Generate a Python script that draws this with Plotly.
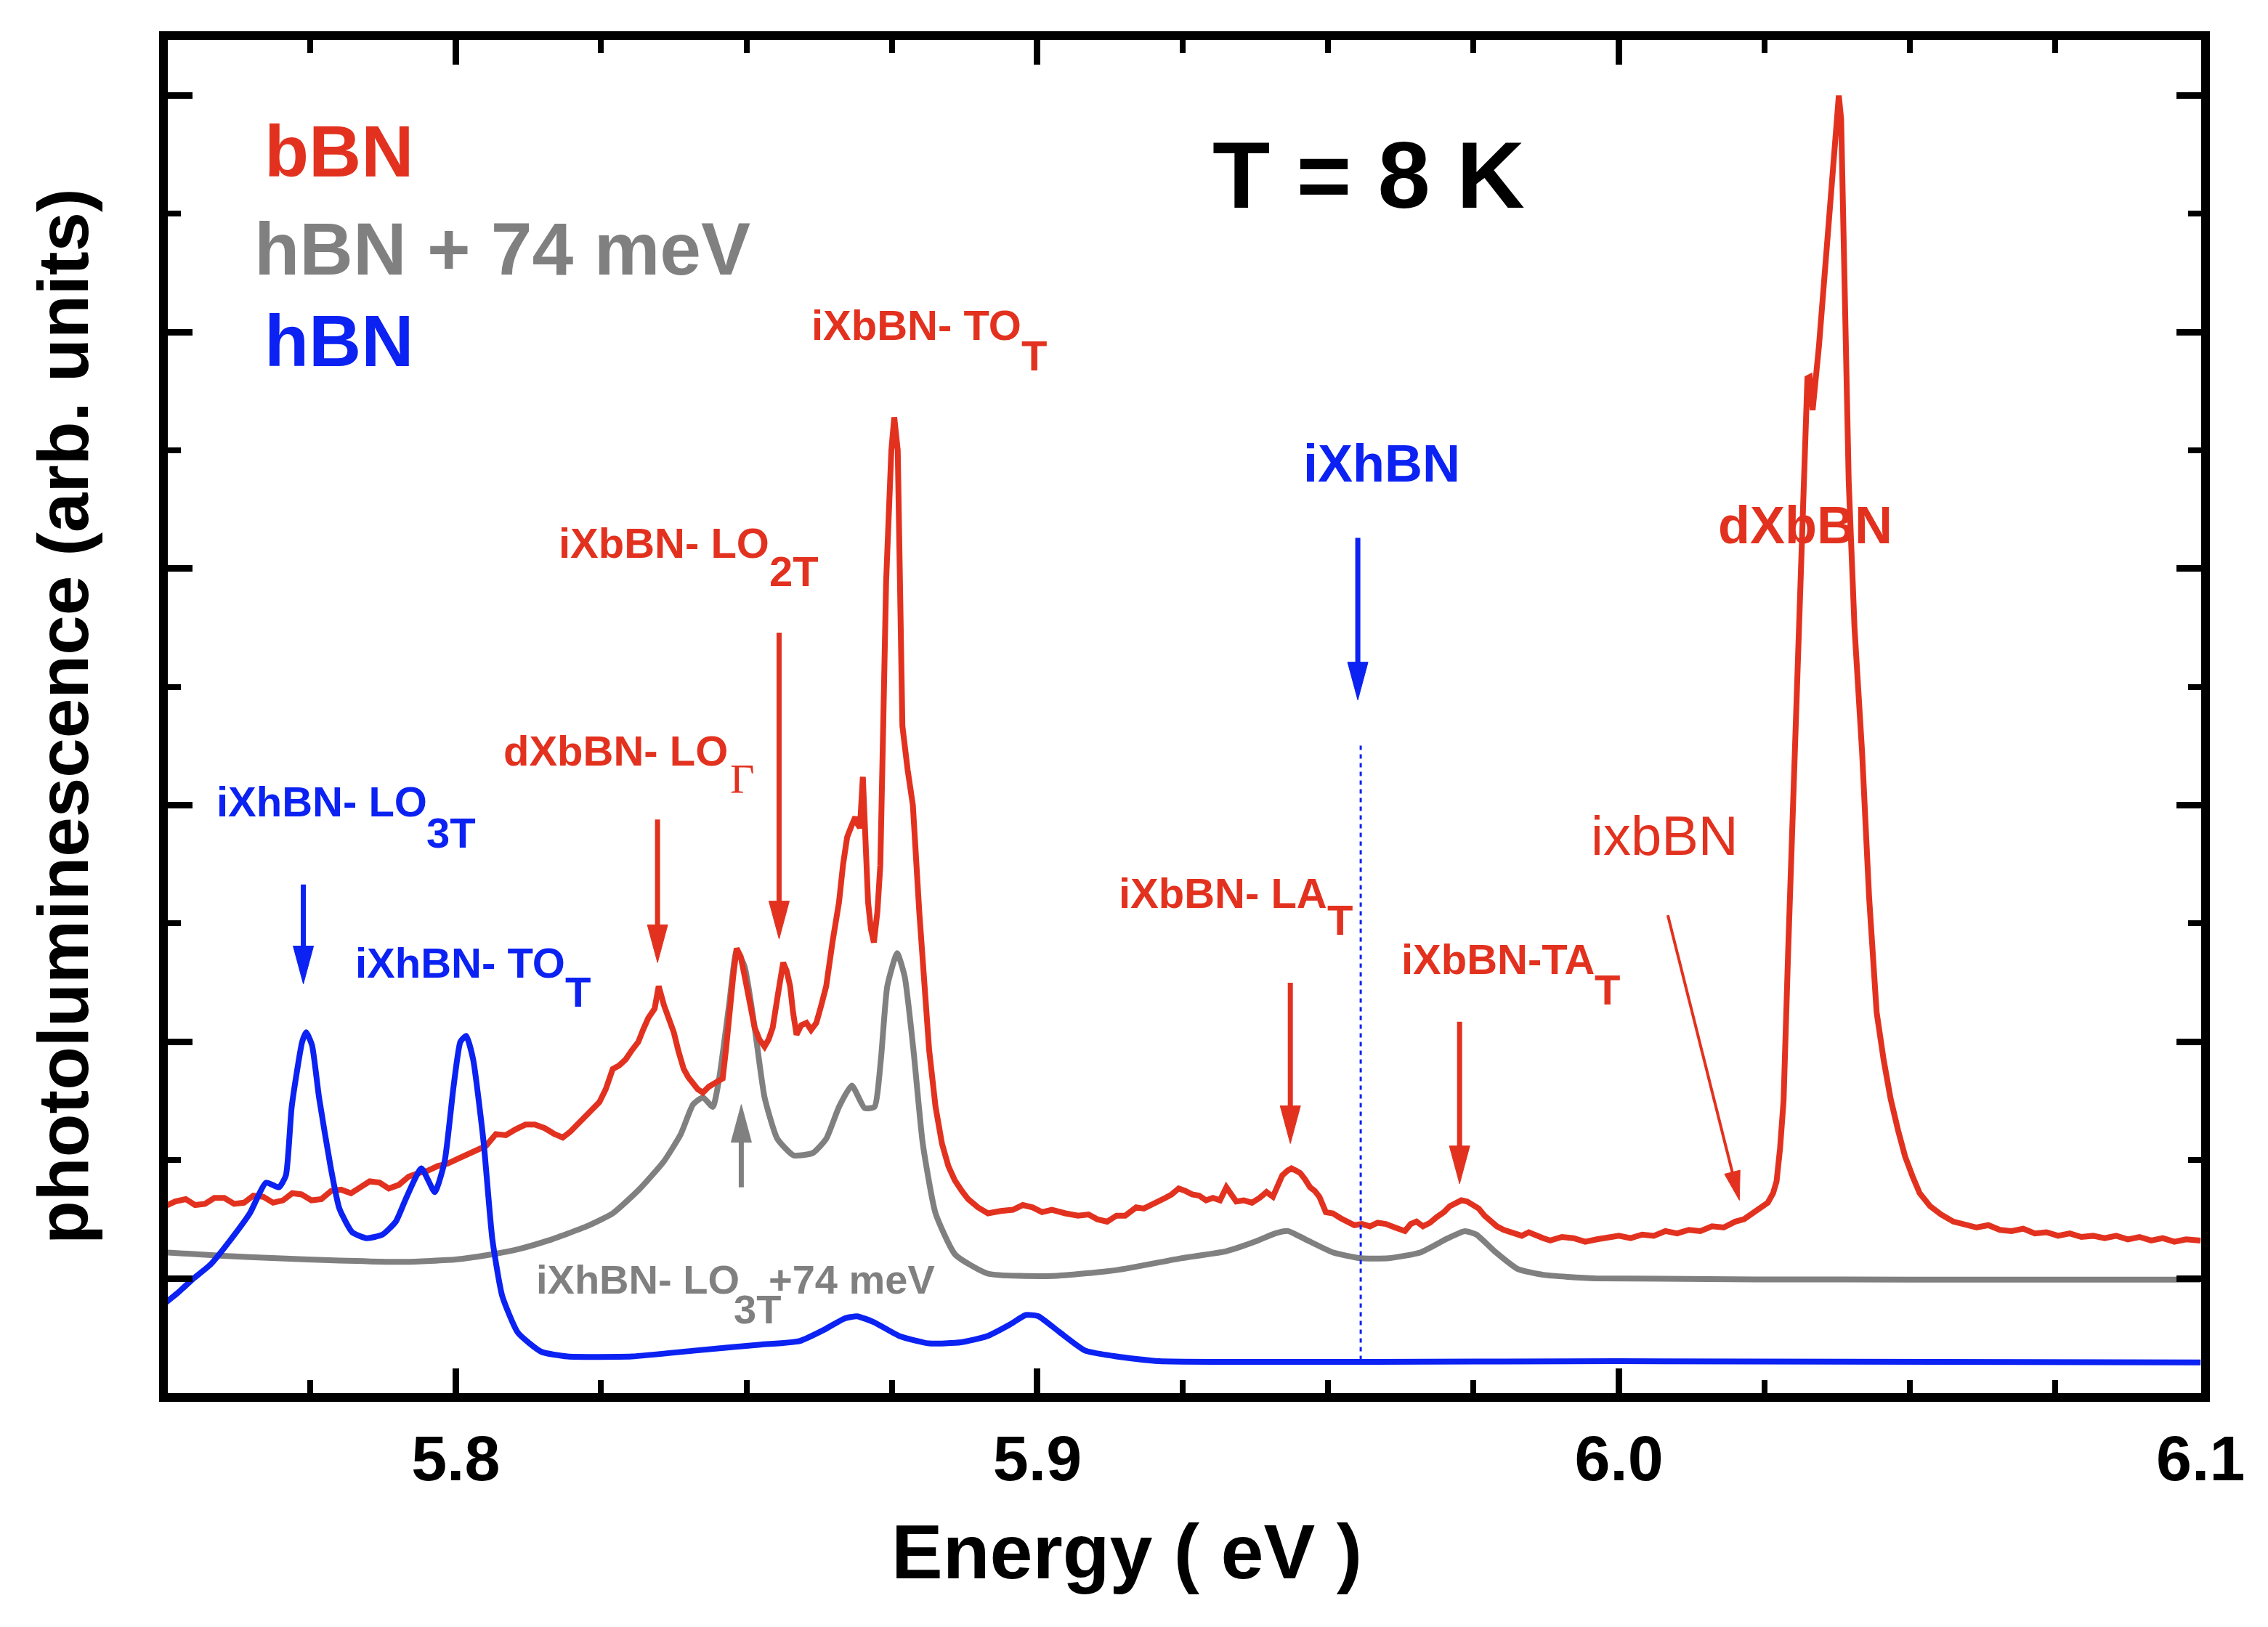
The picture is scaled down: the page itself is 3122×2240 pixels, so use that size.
import math
import plotly.graph_objects as go

# ---------------- data ----------------
# bBN photoluminescence (red)
bbn_energy = [
    5.7500, 5.7518, 5.7536, 5.7552, 5.7569, 5.7585, 5.7602, 5.7619, 5.7636, 5.7652,
    5.7669, 5.7686, 5.7703, 5.7719, 5.7735, 5.7752, 5.7769, 5.7786, 5.7803, 5.7820,
    5.7836, 5.7852, 5.7869, 5.7885, 5.7902, 5.7919, 5.7936, 5.7952, 5.7969, 5.7986,
    5.8003, 5.8019, 5.8035, 5.8052, 5.8069, 5.8086, 5.8103, 5.8120, 5.8136, 5.8153,
    5.8170, 5.8184, 5.8197, 5.8211, 5.8225, 5.8236, 5.8247, 5.8258, 5.8270, 5.8281,
    5.8292, 5.8303, 5.8314, 5.8322, 5.8331, 5.8342, 5.8349, 5.8358, 5.8366, 5.8375,
    5.8383, 5.8392, 5.8400, 5.8408, 5.8416, 5.8425, 5.8435, 5.8445, 5.8459, 5.8465,
    5.8470, 5.8477, 5.8483, 5.8490, 5.8497, 5.8505, 5.8514, 5.8522, 5.8531, 5.8538,
    5.8545, 5.8554, 5.8563, 5.8569, 5.8575, 5.8580, 5.8586, 5.8594, 5.8603, 5.8611,
    5.8620, 5.8628, 5.8637, 5.8648, 5.8659, 5.8666, 5.8673, 5.8680, 5.8687, 5.8691,
    5.8695, 5.8700, 5.8705, 5.8709, 5.8714, 5.8719, 5.8725, 5.8730, 5.8735, 5.8740,
    5.8749, 5.8754, 5.8760, 5.8764, 5.8768, 5.8777, 5.8786, 5.8797, 5.8805, 5.8814,
    5.8825, 5.8836, 5.8847, 5.8858, 5.8870, 5.8881, 5.8898, 5.8915, 5.8937, 5.8958,
    5.8975, 5.8992, 5.9008, 5.9025, 5.9048, 5.9070, 5.9088, 5.9103, 5.9120, 5.9136,
    5.9151, 5.9170, 5.9183, 5.9207, 5.9220, 5.9231, 5.9243, 5.9254, 5.9266, 5.9278,
    5.9290, 5.9302, 5.9314, 5.9325, 5.9334, 5.9342, 5.9355, 5.9369, 5.9382, 5.9394,
    5.9405, 5.9414, 5.9421, 5.9430, 5.9437, 5.9445, 5.9452, 5.9460, 5.9469, 5.9477,
    5.9485, 5.9496, 5.9508, 5.9521, 5.9533, 5.9545, 5.9558, 5.9572, 5.9585, 5.9599,
    5.9615, 5.9632, 5.9642, 5.9652, 5.9663, 5.9675, 5.9687, 5.9699, 5.9709, 5.9719,
    5.9729, 5.9739, 5.9749, 5.9759, 5.9769, 5.9779, 5.9790, 5.9802, 5.9818, 5.9833,
    5.9845, 5.9858, 5.9870, 5.9882, 5.9902, 5.9922, 5.9942, 5.9962, 5.9980, 6.0000,
    6.0020, 6.0040, 6.0060, 6.0080, 6.0100, 6.0120, 6.0140, 6.0160, 6.0180, 6.0200,
    6.0215, 6.0231, 6.0245, 6.0256, 6.0265, 6.0271, 6.0277, 6.0283, 6.0291, 6.0300,
    6.0310, 6.0318, 6.0324, 6.0328, 6.0333, 6.0344, 6.0355, 6.0368, 6.0375, 6.0378,
    6.0382, 6.0388, 6.0395, 6.0405, 6.0418, 6.0430, 6.0443, 6.0455, 6.0467, 6.0480,
    6.0492, 6.0505, 6.0517, 6.0535, 6.0554, 6.0575, 6.0595, 6.0615, 6.0635, 6.0655,
    6.0675, 6.0695, 6.0715, 6.0735, 6.0755, 6.0775, 6.0795, 6.0815, 6.0835, 6.0855,
    6.0875, 6.0895, 6.0915, 6.0935, 6.0955, 6.0975, 6.1000,
]
bbn_intensity = [
    0.61, 0.65, 0.67, 0.62, 0.63, 0.68, 0.68, 0.63, 0.64, 0.70,
    0.69, 0.64, 0.66, 0.72, 0.71, 0.66, 0.67, 0.74, 0.75, 0.72,
    0.77, 0.82, 0.81, 0.76, 0.79, 0.86, 0.89, 0.91, 0.95, 0.97,
    1.01, 1.05, 1.08, 1.12, 1.22, 1.21, 1.26, 1.30, 1.30, 1.27,
    1.22, 1.19, 1.24, 1.31, 1.38, 1.44, 1.49, 1.60, 1.77, 1.80,
    1.85, 1.93, 2.00, 2.10, 2.20, 2.28, 2.47, 2.31, 2.20, 2.08,
    1.92, 1.77, 1.70, 1.65, 1.60, 1.57, 1.62, 1.65, 1.69, 1.95,
    2.24, 2.55, 2.79, 2.72, 2.55, 2.33, 2.12, 2.02, 1.96, 2.02,
    2.12, 2.40, 2.67, 2.60, 2.47, 2.25, 2.06, 2.14, 2.16, 2.10,
    2.16, 2.30, 2.47, 2.85, 3.18, 3.50, 3.73, 3.82, 3.90, 3.84,
    3.81, 4.24, 3.70, 3.18, 2.95, 2.84, 3.10, 3.49, 4.67, 5.89,
    7.00, 7.28, 7.00, 5.89, 4.67, 4.30, 4.00, 3.10, 2.50, 1.93,
    1.45, 1.14, 0.95, 0.83, 0.74, 0.67, 0.60, 0.55, 0.57, 0.58,
    0.62, 0.60, 0.56, 0.58, 0.55, 0.53, 0.54, 0.50, 0.48, 0.53,
    0.53, 0.60, 0.59, 0.64, 0.68, 0.71, 0.76, 0.74, 0.71, 0.70,
    0.66, 0.68, 0.66, 0.77, 0.70, 0.65, 0.66, 0.64, 0.68, 0.73,
    0.69, 0.80, 0.87, 0.91, 0.93, 0.91, 0.89, 0.84, 0.77, 0.74,
    0.69, 0.56, 0.55, 0.51, 0.48, 0.45, 0.46, 0.44, 0.47, 0.46,
    0.43, 0.40, 0.46, 0.48, 0.44, 0.47, 0.52, 0.56, 0.61, 0.64,
    0.66, 0.65, 0.62, 0.59, 0.53, 0.48, 0.44, 0.41, 0.38, 0.36,
    0.39, 0.37, 0.34, 0.32, 0.35, 0.34, 0.31, 0.33, 0.35, 0.36,
    0.34, 0.37, 0.36, 0.40, 0.38, 0.41, 0.40, 0.44, 0.43, 0.48,
    0.50, 0.56, 0.60, 0.64, 0.72, 0.82, 1.10, 1.50, 2.78, 4.05,
    5.60, 6.74, 7.61, 7.62, 7.34, 7.89, 8.59, 9.44, 9.94, 10.00,
    9.80, 8.44, 6.74, 5.50, 4.45, 3.23, 2.25, 1.85, 1.52, 1.25,
    1.03, 0.86, 0.72, 0.61, 0.54, 0.48, 0.46, 0.43, 0.45, 0.41,
    0.40, 0.42, 0.38, 0.39, 0.36, 0.38, 0.35, 0.36, 0.34, 0.36,
    0.33, 0.35, 0.32, 0.34, 0.31, 0.33, 0.32,
]

# hBN + 74 meV (grey)
hbn_shift_energy = [
    5.7500, 5.7600, 5.7692, 5.7800, 5.7913, 5.8000, 5.8058, 5.8110, 5.8159, 5.8225,
    5.8270, 5.8315, 5.8358, 5.8387, 5.8408, 5.8425, 5.8442, 5.8453, 5.8470, 5.8483,
    5.8497, 5.8514, 5.8531, 5.8553, 5.8581, 5.8614, 5.8637, 5.8659, 5.8681, 5.8703,
    5.8720, 5.8731, 5.8742, 5.8759, 5.8772, 5.8787, 5.8803, 5.8825, 5.8859, 5.8915,
    5.9026, 5.9136, 5.9247, 5.9325, 5.9374, 5.9409, 5.9431, 5.9461, 5.9508, 5.9556,
    5.9604, 5.9659, 5.9706, 5.9735, 5.9755, 5.9786, 5.9826, 5.9870, 5.9960, 6.0500,
    6.1000,
]
hbn_shift_intensity = [
    0.22, 0.19, 0.17, 0.15, 0.14, 0.16, 0.20, 0.25, 0.32, 0.44,
    0.55, 0.75, 0.99, 1.22, 1.47, 1.53, 1.45, 1.69, 2.31, 2.77,
    2.63, 2.12, 1.53, 1.18, 1.04, 1.06, 1.18, 1.45, 1.63, 1.44,
    1.45, 1.85, 2.47, 2.75, 2.55, 1.93, 1.14, 0.55, 0.20, 0.04,
    0.02, 0.07, 0.17, 0.23, 0.31, 0.38, 0.40, 0.33, 0.22, 0.17,
    0.17, 0.22, 0.34, 0.40, 0.37, 0.23, 0.08, 0.03, 0.00, -0.01,
    -0.01,
]

# hBN (blue)
hbn_energy = [
    5.7500, 5.7525, 5.7547, 5.7579, 5.7612, 5.7646, 5.7674, 5.7696, 5.7708, 5.7718,
    5.7736, 5.7743, 5.7753, 5.7765, 5.7785, 5.7800, 5.7822, 5.7847, 5.7874, 5.7897,
    5.7914, 5.7941, 5.7964, 5.7981, 5.7996, 5.8008, 5.8018, 5.8030, 5.8048, 5.8063,
    5.8080, 5.8107, 5.8147, 5.8192, 5.8303, 5.8412, 5.8524, 5.8591, 5.8635, 5.8668,
    5.8690, 5.8719, 5.8764, 5.8814, 5.8869, 5.8913, 5.8953, 5.8980, 5.9002, 5.9037,
    5.9082, 5.9136, 5.9210, 6.0000, 6.1000,
]
hbn_intensity = [
    -0.21, -0.11, -0.01, 0.12, 0.32, 0.55, 0.81, 0.77, 0.87, 1.45,
    2.00, 2.08, 1.97, 1.53, 0.94, 0.59, 0.39, 0.34, 0.37, 0.48,
    0.67, 0.93, 0.73, 0.99, 1.61, 2.00, 2.05, 1.85, 1.15, 0.33,
    -0.15, -0.46, -0.62, -0.66, -0.66, -0.61, -0.56, -0.53, -0.43, -0.34,
    -0.32, -0.37, -0.49, -0.55, -0.54, -0.49, -0.39, -0.31, -0.32, -0.45,
    -0.61, -0.66, -0.70, -0.70, -0.71,
]

ixhbn_energy = 5.9556              # dotted reference line
ixhbn_line_span = [-0.69, 4.51]

x_tick_labels = ["5.8", "5.9", "6.0", "6.1"]
x_tick_values = [5.8, 5.9, 6.0, 6.1]

# ---------------- styling ----------------
RED = "#E2321F"
BLUE = "#0B22F2"
GRAY = "#808080"
FONT = "Liberation Sans, Arial, Helvetica, sans-serif"
SERIF = "Liberation Serif, Times New Roman, serif"

# page body has an 8 px margin, so the figure is 16 px smaller than the window
W, H = 3106, 2224
ML, MR, MT, MB = 223, 84, 47, 314
X_RANGE = [5.7505, 6.1001]
Y_RANGE = [-0.97, 10.47]
PW, PH = W - ML - MR, H - MT - MB
SX = PW / (X_RANGE[1] - X_RANGE[0])
SY = PH / (Y_RANGE[1] - Y_RANGE[0])

fig = go.Figure()
fig.add_trace(go.Scatter(x=hbn_shift_energy, y=hbn_shift_intensity, mode="lines",
                         line=dict(color=GRAY, width=8, shape="spline", smoothing=0.5),
                         name="hBN + 74 meV"))
fig.add_trace(go.Scatter(x=bbn_energy, y=bbn_intensity, mode="lines",
                         line=dict(color=RED, width=8), name="bBN"))
fig.add_trace(go.Scatter(x=hbn_energy, y=hbn_intensity, mode="lines",
                         line=dict(color=BLUE, width=8, shape="spline", smoothing=0.5),
                         name="hBN"))

shapes = []


def arrow(x0, y0, x1, y1, color, width=7, hl=52, hw=28):
    dxp = (x1 - x0) * SX
    dyp = (y1 - y0) * SY
    L = math.hypot(dxp, dyp)
    ux, uy = dxp / L, dyp / L
    bx = x1 - hl * ux / SX
    by = y1 - hl * uy / SY
    px, py = -uy, ux
    lx, ly = bx + (hw / 2) * px / SX, by + (hw / 2) * py / SY
    rx, ry = bx - (hw / 2) * px / SX, by - (hw / 2) * py / SY
    sbx = x1 - (hl * 0.6) * ux / SX
    sby = y1 - (hl * 0.6) * uy / SY
    shapes.append(dict(type="line", xref="x", yref="y", x0=x0, y0=y0, x1=sbx, y1=sby,
                       line=dict(color=color, width=width)))
    shapes.append(dict(type="path", xref="x", yref="y",
                       path=f"M {x1},{y1} L {lx},{ly} L {rx},{ry} Z",
                       fillcolor=color, line=dict(color=color, width=1)))


arrow(5.7738, 3.33, 5.7738, 2.49, BLUE)
arrow(5.8347, 3.88, 5.8347, 2.67, RED)
arrow(5.8556, 5.46, 5.8556, 2.87, RED)
arrow(5.8491, 0.77, 5.8491, 1.47, GRAY)
arrow(5.9551, 6.26, 5.9551, 4.89, BLUE)
arrow(5.9435, 2.50, 5.9435, 1.14, RED)
arrow(5.9726, 2.17, 5.9726, 0.80, RED)
arrow(6.0084, 3.07, 6.0207, 0.66, RED, width=4, hl=40, hw=22)

shapes.append(dict(type="line", xref="x", yref="y", x0=ixhbn_energy, x1=ixhbn_energy,
                   y0=ixhbn_line_span[0], y1=ixhbn_line_span[1],
                   line=dict(color=BLUE, width=3, dash="6px,6px")))

# annotations: (text, x, y, size, color, weight, family)
labels = [
    ("bBN", 5.7668, 9.53, 100, RED, "bold", FONT),
    ("hBN + 74 meV", 5.7651, 8.70, 102, GRAY, "bold", FONT),
    ("hBN", 5.7668, 7.93, 100, BLUE, "bold", FONT),
    ("T = 8 K", 5.9298, 9.33, 130, "black", "bold", FONT),
    ("iXbBN- TO", 5.8609, 8.06, 58, RED, "bold", FONT),
    ("T", 5.8970, 7.80, 58, RED, "bold", FONT),
    ("iXbBN- LO", 5.8174, 6.22, 58, RED, "bold", FONT),
    ("2T", 5.8537, 5.98, 58, RED, "bold", FONT),
    ("dXbBN- LO", 5.8080, 4.46, 58, RED, "bold", FONT),
    ("Γ", 5.8469, 4.22, 58, RED, "normal", SERIF),
    ("iXhBN- LO", 5.7586, 4.03, 58, BLUE, "bold", FONT),
    ("3T", 5.7947, 3.77, 58, BLUE, "bold", FONT),
    ("iXhBN- TO", 5.7825, 2.67, 58, BLUE, "bold", FONT),
    ("T", 5.8186, 2.42, 58, BLUE, "bold", FONT),
    ("iXhBN", 5.9455, 6.89, 72, BLUE, "bold", FONT),
    ("dXbBN", 6.0168, 6.37, 72, RED, "bold", FONT),
    ("ixbBN", 5.9949, 3.74, 76, RED, "normal", FONT),
    ("iXbBN- LA", 5.9137, 3.26, 58, RED, "bold", FONT),
    ("T", 5.9496, 3.03, 58, RED, "bold", FONT),
    ("iXbBN-TA", 5.9623, 2.70, 58, RED, "bold", FONT),
    ("T", 5.9955, 2.44, 58, RED, "bold", FONT),
    ("iXhBN- LO", 5.8136, -0.01, 56, GRAY, "bold", FONT),
    ("3T", 5.8475, -0.26, 56, GRAY, "bold", FONT),
    ("+74 meV", 5.8536, -0.01, 56, GRAY, "bold", FONT),
]

annotations = []
for text, x, y, size, color, weight, fam in labels:
    annotations.append(dict(text=text, x=x, y=y, xref="x", yref="y", xanchor="left",
                            yanchor="middle", showarrow=False,
                            font=dict(family=fam, size=size, color=color, weight=weight)))

annotations.append(dict(text="Energy ( eV )", x=5.9154, y=-0.117, xref="x", yref="paper",
                        xanchor="center", yanchor="middle", showarrow=False,
                        font=dict(family=FONT, size=106, color="black", weight="bold")))
annotations.append(dict(text="photoluminescence (arb. units)", x=-0.0514, y=0.5003,
                        xref="paper", yref="paper", xanchor="center", yanchor="middle",
                        textangle=-90, showarrow=False,
                        font=dict(family=FONT, size=98, color="black", weight="bold")))

fig.update_layout(
    width=W, height=H,
    margin=dict(l=ML, r=MR, t=MT, b=MB, pad=0),
    paper_bgcolor="white", plot_bgcolor="white",
    showlegend=False,
    shapes=shapes, annotations=annotations,
)
fig.update_xaxes(
    range=X_RANGE, showline=True, linewidth=12, linecolor="black", mirror="ticks",
    ticks="inside", ticklen=34, tickwidth=9, tickcolor="black",
    tickvals=x_tick_values, ticktext=x_tick_labels,
    minor=dict(dtick=0.025, tick0=5.8, ticks="inside", ticklen=18, tickwidth=8,
               tickcolor="black", showgrid=False),
    showgrid=False, zeroline=False,
    tickfont=dict(family=FONT, size=88, color="black", weight="bold"),
    ticklabelstandoff=2,
)
fig.update_yaxes(
    range=Y_RANGE, showline=True, linewidth=12, linecolor="black", mirror="ticks",
    ticks="inside", ticklen=34, tickwidth=9, tickcolor="black",
    tick0=0, dtick=2,
    minor=dict(dtick=1, tick0=0, ticks="inside", ticklen=18, tickwidth=8,
               tickcolor="black", showgrid=False),
    showgrid=False, zeroline=False, showticklabels=False,
)

fig.write_html("out.html")
